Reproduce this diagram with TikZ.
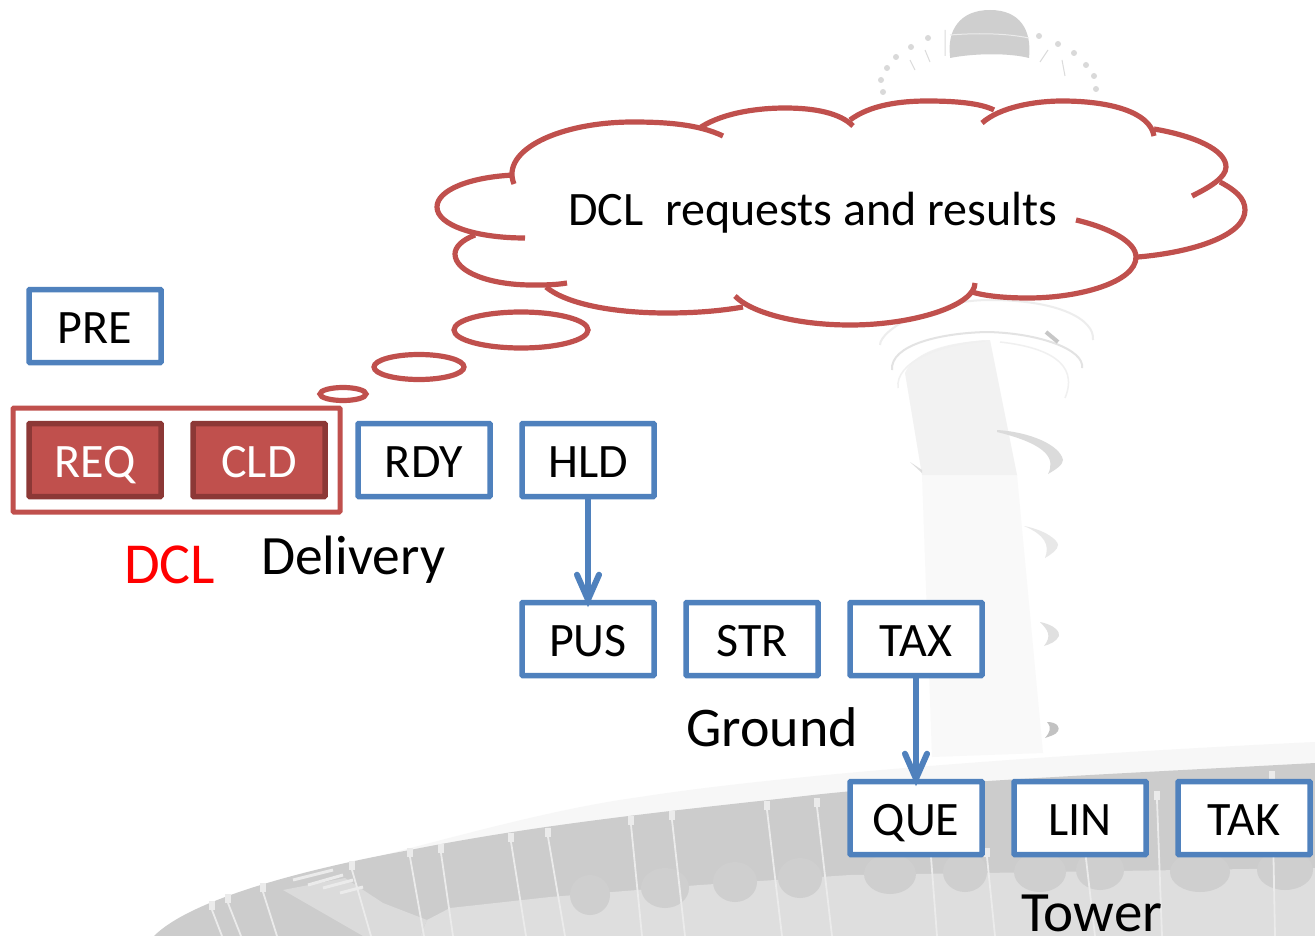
\documentclass[tikz,border=0pt]{standalone}
\usepackage{fontspec}
\setmainfont{Carlito}
\usetikzlibrary{calc}
\definecolor{boxblue}{HTML}{4F81BD}
\definecolor{cloudred}{HTML}{C0504D}
\definecolor{reddark}{HTML}{8C3836}
\colorlet{ribgray}{black!8}
\tikzset{
  statebox/.style={draw=boxblue,fill=white,line width=5.5pt,rounded corners=0.8pt,minimum width=132pt,minimum height=73pt,inner sep=0pt,text height=34pt,text depth=0pt,font=\fontsize{48}{48}\selectfont},
  redbox/.style={statebox,draw=reddark,fill=cloudred,text=white},
  biglabel/.style={anchor=base west,inner sep=0pt,font=\fontsize{56}{56}\selectfont},
  cloudline/.style={draw=cloudred,line width=5.2pt,line cap=butt},
  flow/.style={draw=boxblue,line width=6.5pt},
  barb/.style={draw=boxblue,line width=6pt,line cap=round,miter limit=10},
  rib/.style={draw=ribgray,line width=1.8pt},
  louver/.style={draw=ribgray,line width=3pt},
}
\def\lobeA{(514,184) .. controls (500,150) and (560,122) .. (633,122) .. controls (670,122) and (700,125) .. (723,136)}
\def\lobeB{(701,127) .. controls (725,112) and (760,108) .. (785,108) .. controls (815,108) and (840,113) .. (853,126)}
\def\lobeC{(850,120) .. controls (870,105) and (900,101) .. (927,101) .. controls (955,101) and (980,103) .. (994,110)}
\def\lobeD{(982,123) .. controls (1000,107) and (1035,101) .. (1062,101) .. controls (1110,101) and (1150,112) .. (1154,136)}
\def\lobeE{(1154,129) .. controls (1195,136) and (1226,150) .. (1226,167) .. controls (1226,178) and (1208,188) .. (1192,196)}
\def\lobeF{(1220,182) .. controls (1235,190) and (1245,198) .. (1245,210) .. controls (1245,235) and (1195,252) .. (1138,257)}
\def\lobeG{(1076,220) .. controls (1110,228) and (1136,242) .. (1136,257) .. controls (1136,282) and (1080,298) .. (1028,298) .. controls (1005,298) and (985,296) .. (972,292)}
\def\lobeH{(975,283) .. controls (975,305) and (915,325) .. (850,325) .. controls (795,325) and (750,312) .. (735,296)}
\def\lobeI{(743,307) .. controls (720,311) and (695,313) .. (667,313) .. controls (610,313) and (565,303) .. (546,287)}
\def\lobeJ{(567,283) .. controls (555,285) and (545,285) .. (532,285) .. controls (490,285) and (455,272) .. (455,254) .. controls (455,247) and (462,240) .. (475,235)}
\def\lobeK{(525,238) .. controls (475,238) and (437,225) .. (437,207) .. controls (437,190) and (470,177) .. (514,175)}
\edef\cloudfill{\lobeA -- \lobeB -- \lobeC -- \lobeD -- \lobeE -- \lobeF -- \lobeG -- \lobeH -- \lobeI -- \lobeJ -- \lobeK -- cycle}
\begin{document}
\begin{tikzpicture}[x=1pt,y=-1pt]
\useasboundingbox (0,0) rectangle (1315,936);
\fill[white] (0,0) rectangle (1315,936);
% --- faded tower photograph ---
\fill[black!2.5] (922,475) -- (1017,475) -- (1043,753) -- (932,757) -- cycle;
\fill[black!5] (905,373) .. controls (915,350) and (950,342) .. (990,340) -- (1017,475) -- (922,475) -- cycle;
\draw[black!11,line width=2pt] (892,370) .. controls (890,345) and (940,333) .. (987,332) .. controls (1040,333) and (1085,350) .. (1082,368);
\draw[black!7,line width=2pt] (880,345) .. controls (880,330) and (930,300) .. (990,300) .. controls (1060,300) and (1095,320) .. (1093,340);
\draw[black!6,line width=1.5pt] (898,388) .. controls (895,362) and (940,344) .. (985,341);
\draw[black!6,line width=1.5pt] (1000,342) .. controls (1045,347) and (1080,362) .. (1065,398);
\draw[black!22,line width=4pt] (1046,332) -- (1058,342);
\fill[black!14] (997,430) .. controls (1030,432) and (1060,445) .. (1063,460) .. controls (1063,465) and (1055,470) .. (1048,474) .. controls (1055,460) and (1050,445) .. (997,432) -- cycle;
\fill[black!9] (1024,526) .. controls (1045,530) and (1058,540) .. (1058,545) .. controls (1058,550) and (1050,555) .. (1045,558) .. controls (1050,545) and (1045,535) .. (1024,526) -- cycle;
\fill[black!12] (1040,622) .. controls (1055,625) and (1060,632) .. (1059,636) .. controls (1056,642) and (1050,644) .. (1044,646) .. controls (1052,636) and (1048,630) .. (1040,622) -- cycle;
\fill[black!24] (1047,722) .. controls (1058,722) and (1060,728) .. (1058,731) .. controls (1056,735) and (1050,736) .. (1045,738) .. controls (1050,732) and (1052,728) .. (1047,722) -- cycle;
\fill[black!13] (910,462) -- (922,470) -- (922,473) -- cycle;
% dome and ring of beads
\fill[black!19] (950,56) .. controls (947,30) and (960,10) .. (990,10) .. controls (1020,10) and (1032,30) .. (1029,58) .. controls (1010,53) and (975,53) .. (950,58) -- cycle;
\draw[black!8,line width=1pt] (950,35) .. controls (975,33) and (1005,33) .. (1029,38);
\foreach \bx/\by in {928/38,911/47,896/57,887/68,881/80,883/92,1039/36,1058/44,1074/53,1086/65,1094/76,1096/89}
  \fill[black!15] (\bx,\by) circle[radius=3];
\draw[black!14,line width=1pt] (945,30) -- (945,56) (1062,60) -- (1065,76) (910,60) -- (915,70) (925,50) -- (930,62) (1048,50) -- (1040,62);
% roof
\fill[black!3] (380,856) .. controls (480,830) and (560,808) .. (640,797) .. controls (800,772) and (1100,752) .. (1315,742) -- (1315,800) -- (380,900) -- cycle;
\fill[black!20] (154,936) .. controls (190,900) and (300,870) .. (410,850) .. controls (550,822) and (700,808) .. (813,795) .. controls (930,782) and (1150,772) .. (1315,763) -- (1315,936) -- cycle;
\fill[black!13] (420,936) -- (427,920) -- (450,908) -- (550,897) -- (700,885) -- (850,875) -- (1315,868) -- (1315,936) -- cycle;
\fill[black!14] (283,890) -- (345,878) -- (383,903) -- (427,920) -- (420,936) -- (363,936) -- cycle;
\foreach \sx/\sy/\sr in {590/895/20,665/888/24,735/882/22,800/878/22,890/874/26,965/872/22,1040/872/26,1100/870/24,1200/872/30,1285/870/28}
  \fill[black!19] (\sx,\sy) ellipse[x radius=\sr,y radius=20];
\foreach \ax/\ay/\bx/\by in {212/910/222/936,228/903/241/936,263/892/277/936,352/870/371/936,410/857/424/936,441/853/453/936,511/842/526/936,548/837/565/936,631/825/642/936,672/820/685/936,767/810/782/936,817/807/832/936,931/857/937/936,987/857/995/936,1085/850/1095/936,1157/800/1162/936,1272/780/1275/936}
  {\draw[rib] (\ax,\ay) -- (\bx,\by);
   \fill[ribgray] ($(\ax,\ay)+(-3,-9)$) rectangle ($(\ax,\ay)+(3,0)$);}
\draw[louver] (293,880) -- (333,870) (308,885) -- (343,875) (323,888) -- (353,880) (340,893) -- (363,887);
% --- thought cloud ---
\fill[white] \cloudfill;
\draw[cloudline] \lobeA;
\draw[cloudline] \lobeB;
\draw[cloudline] \lobeC;
\draw[cloudline] \lobeD;
\draw[cloudline] \lobeE;
\draw[cloudline] \lobeF;
\draw[cloudline] \lobeG;
\draw[cloudline] \lobeH;
\draw[cloudline] \lobeI;
\draw[cloudline] \lobeJ;
\draw[cloudline] \lobeK;
\draw[cloudline,fill=white] (521,330) circle[x radius=67,y radius=18];
\draw[cloudline,fill=white] (419,367) circle[x radius=45,y radius=12.5];
\draw[cloudline,fill=white] (343,394) circle[x radius=23,y radius=6.5];
\node[anchor=base west,inner sep=0pt,font=\fontsize{48}{48}\selectfont] (cloudtext) at (568,226) {DCL\ \ requests and results};
% --- states ---
\node[draw=cloudred,line width=5pt,rounded corners=0.8pt,minimum width=327pt,minimum height=104pt,inner sep=0pt] (dclgroup) at (176.5,460) {};
\node[statebox] (pre) at (95,326) {PRE};
\node[redbox] (req) at (95,460) {REQ};
\node[redbox] (cld) at (259,460) {CLD};
\node[statebox] (rdy) at (424,460) {RDY};
\node[statebox] (hld) at (588,460) {HLD};
\node[statebox] (pus) at (588,639) {PUS};
\node[statebox] (str) at (752,639) {STR};
\node[statebox] (tax) at (916,639) {TAX};
\node[statebox] (que) at (916,818) {QUE};
\node[statebox] (lin) at (1080,818) {LIN};
\node[statebox] (tak) at (1244,818) {TAK};
\node[biglabel,text=red,font=\fontsize{58}{58}\selectfont] (dcl) at (124,583) {DCL};
\node[biglabel,font=\fontsize{55.5}{55.5}\selectfont] (delivery) at (261,574) {Delivery};
\node[biglabel] (ground) at (686,746) {Ground};
\node[biglabel,font=\fontsize{57}{57}\selectfont,text depth=0pt] (tower) at (1021,931) {Tower};
% --- connectors ---
\draw[flow] (hld.south) -- ([yshift=8pt]pus.north);
\draw[barb] ([xshift=-11pt,yshift=25pt]pus.north) -- (pus.north) -- ([xshift=11pt,yshift=25pt]pus.north);
\draw[flow] (tax.south) -- ([yshift=8pt]que.north);
\draw[barb] ([xshift=-11pt,yshift=25pt]que.north) -- (que.north) -- ([xshift=11pt,yshift=25pt]que.north);
\end{tikzpicture}
\end{document}
